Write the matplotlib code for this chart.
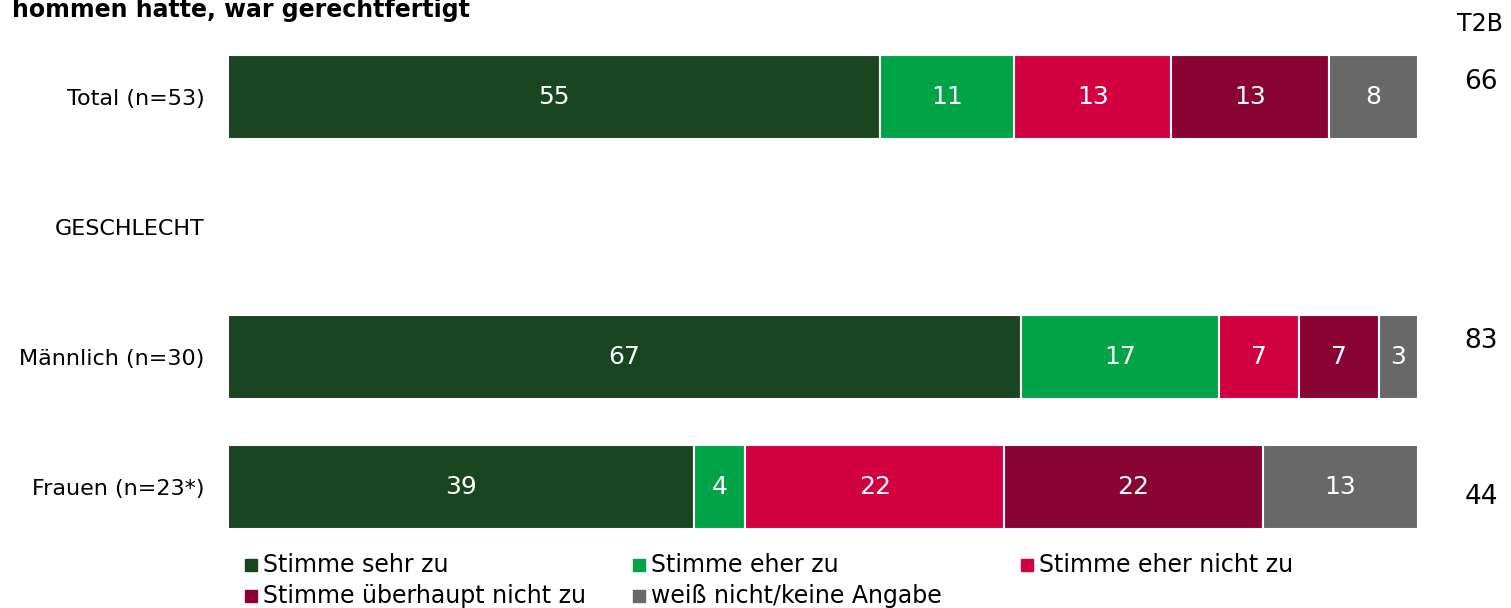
import numpy as np
import matplotlib.pyplot as plt
from matplotlib.patches import Rectangle

# data
groups = ["Total (n=53)", "GESCHLECHT", "Männlich (n=30)", "Frauen (n=23*)"]
series = ["Stimme sehr zu", "Stimme eher zu", "Stimme eher nicht zu",
          "Stimme überhaupt nicht zu", "weiß nicht/keine Angabe"]
sehr_zu = [54.7, np.nan, 66.7, 39.1]
eher_zu = [11.3, np.nan, 16.7, 4.3]
eher_nicht = [13.2, np.nan, 6.7, 21.7]
ueberhaupt_nicht = [13.2, np.nan, 6.7, 21.7]
weiss_nicht = [7.5, np.nan, 3.3, 13.0]
t2b = ["66", "", "83", "44"]
title = "hommen hatte, war gerechtfertigt"

colors = ["#1a4521", "#00a346", "#d10040", "#890433", "#686868"]
W, H = 1511, 608

fig = plt.figure(figsize=(W / 100, H / 100), dpi=100)
plt.rcParams['font.family'] = ['DejaVu Sans']
ax = fig.add_axes([228 / W, 1 - 552 / H, (1418 - 228) / W, 520 / H])

vals = np.nan_to_num(np.array([sehr_zu, eher_zu, eher_nicht,
                               ueberhaupt_nicht, weiss_nicht]))
tot = vals.sum(axis=0)
share = np.where(tot > 0, vals / np.where(tot > 0, tot, 1) * 100, 0)
ypos = np.arange(len(groups))
left = np.zeros(len(groups))
for k in range(len(series)):
    for i in range(len(groups)):
        if vals[k, i] > 0:
            ax.barh(ypos[i], share[k, i], left=left[i], height=0.65,
                    color=colors[k], edgecolor="white", linewidth=1.5)
            ax.text(left[i] + share[k, i] / 2, ypos[i], f"{vals[k, i]:.0f}",
                    ha="center", va="center", color="white", fontsize=18)
    left = left + share[k]

ax.set_xlim(0, 100)
ax.set_ylim(len(groups) - 0.5, -0.5)
ax.set_yticks(ypos)
ax.set_yticklabels(groups, fontsize=16)
ax.tick_params(axis="y", length=0, pad=17)
ax.set_xticks([])
for s in ax.spines.values():
    s.set_visible(False)

# T2B column
fig.text(1480 / W, 1 - 24 / H, "T2B", ha="center", va="center", fontsize=17)
t2b_shift = [-15, 0, -16, 10]
for i, t in enumerate(t2b):
    if t:
        fig.text(1481 / W, 1 - (97 + 130 * i + t2b_shift[i]) / H, t,
                 ha="center", va="center", fontsize=19)

# title (only its tail is visible in the original)
fig.text(470 / W, 1 - 17 / H, title, ha="right", va="baseline",
         fontsize=17, fontweight="bold")

# legend, row-major in three columns
for k, name in enumerate(series):
    r, c = divmod(k, 3)
    x0 = (245 + 388 * c) / W
    yc = 1 - (565 + 31 * r) / H
    fig.patches.append(Rectangle((x0, yc - 6 / H), 12 / W, 12 / H,
                                 transform=fig.transFigure, color=colors[k]))
    fig.text(x0 + 18 / W, yc, name, ha="left", va="center", fontsize=17)

fig.savefig("out.png", dpi=100)
